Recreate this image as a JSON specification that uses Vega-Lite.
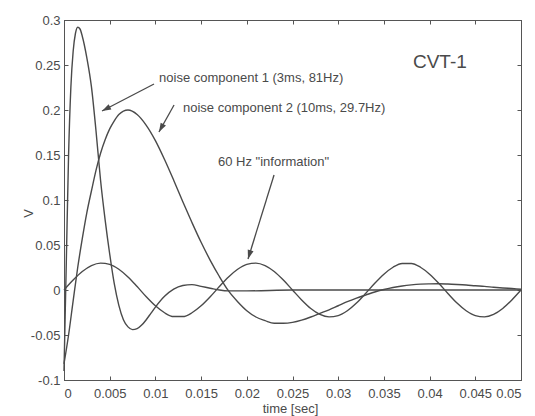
{
  "$schema": "https://vega.github.io/schema/vega-lite/v6.json",
  "width": 457,
  "height": 360,
  "autosize": {"type": "none"},
  "padding": {"left": 64, "top": 20, "right": 14, "bottom": 36},
  "background": "white",
  "config": {
    "view": {"stroke": "#555555", "strokeWidth": 1},
    "font": "Liberation Sans",
    "axis": {
      "grid": false,
      "domainColor": "#555555",
      "tickColor": "#555555",
      "tickSize": -4,
      "labelColor": "#4a4a4a",
      "labelFontSize": 13,
      "labelFont": "Liberation Sans",
      "titleFont": "Liberation Sans",
      "titleFontSize": 13,
      "titleFontWeight": "normal",
      "titleColor": "#4a4a4a"
    }
  },
  "datasets": {
    "curves": [
      {"s": "n1", "t": 0, "v": -0.09},
      {"s": "n1", "t": 0.00025, "v": 0.03},
      {"s": "n1", "t": 0.0005, "v": 0.15},
      {"s": "n1", "t": 0.00075, "v": 0.225},
      {"s": "n1", "t": 0.001, "v": 0.265},
      {"s": "n1", "t": 0.00125, "v": 0.285},
      {"s": "n1", "t": 0.0015, "v": 0.292},
      {"s": "n1", "t": 0.00175, "v": 0.29},
      {"s": "n1", "t": 0.002, "v": 0.282},
      {"s": "n1", "t": 0.0025, "v": 0.258},
      {"s": "n1", "t": 0.003, "v": 0.226},
      {"s": "n1", "t": 0.0035, "v": 0.177},
      {"s": "n1", "t": 0.004, "v": 0.122},
      {"s": "n1", "t": 0.0045, "v": 0.078},
      {"s": "n1", "t": 0.005, "v": 0.04},
      {"s": "n1", "t": 0.0055, "v": 0.007},
      {"s": "n1", "t": 0.006, "v": -0.017},
      {"s": "n1", "t": 0.0065, "v": -0.033},
      {"s": "n1", "t": 0.007, "v": -0.041},
      {"s": "n1", "t": 0.0075, "v": -0.044},
      {"s": "n1", "t": 0.008, "v": -0.043},
      {"s": "n1", "t": 0.0085, "v": -0.039},
      {"s": "n1", "t": 0.009, "v": -0.033},
      {"s": "n1", "t": 0.0095, "v": -0.026},
      {"s": "n1", "t": 0.01, "v": -0.019},
      {"s": "n1", "t": 0.011, "v": -0.007},
      {"s": "n1", "t": 0.012, "v": 0.001},
      {"s": "n1", "t": 0.013, "v": 0.005},
      {"s": "n1", "t": 0.014, "v": 0.006},
      {"s": "n1", "t": 0.015, "v": 0.004},
      {"s": "n1", "t": 0.016, "v": 0.002},
      {"s": "n1", "t": 0.017, "v": 0.0},
      {"s": "n1", "t": 0.018, "v": -0.001},
      {"s": "n1", "t": 0.02, "v": -0.001},
      {"s": "n1", "t": 0.025, "v": 0},
      {"s": "n1", "t": 0.03, "v": 0},
      {"s": "n1", "t": 0.035, "v": 0},
      {"s": "n1", "t": 0.04, "v": 0},
      {"s": "n1", "t": 0.045, "v": 0},
      {"s": "n1", "t": 0.05, "v": 0},
      {"s": "n2", "t": 0, "v": -0.082},
      {"s": "n2", "t": 0.0005, "v": -0.05},
      {"s": "n2", "t": 0.001, "v": -0.012},
      {"s": "n2", "t": 0.0015, "v": 0.025},
      {"s": "n2", "t": 0.002, "v": 0.057},
      {"s": "n2", "t": 0.0025, "v": 0.086},
      {"s": "n2", "t": 0.003, "v": 0.11},
      {"s": "n2", "t": 0.0035, "v": 0.133},
      {"s": "n2", "t": 0.004, "v": 0.152},
      {"s": "n2", "t": 0.0045, "v": 0.167},
      {"s": "n2", "t": 0.005, "v": 0.179},
      {"s": "n2", "t": 0.0055, "v": 0.188},
      {"s": "n2", "t": 0.006, "v": 0.195},
      {"s": "n2", "t": 0.007, "v": 0.2},
      {"s": "n2", "t": 0.008, "v": 0.195},
      {"s": "n2", "t": 0.009, "v": 0.183},
      {"s": "n2", "t": 0.01, "v": 0.166},
      {"s": "n2", "t": 0.011, "v": 0.145},
      {"s": "n2", "t": 0.012, "v": 0.122},
      {"s": "n2", "t": 0.013, "v": 0.098},
      {"s": "n2", "t": 0.014, "v": 0.075},
      {"s": "n2", "t": 0.015, "v": 0.053},
      {"s": "n2", "t": 0.016, "v": 0.033},
      {"s": "n2", "t": 0.017, "v": 0.015},
      {"s": "n2", "t": 0.018, "v": -0.001},
      {"s": "n2", "t": 0.019, "v": -0.013},
      {"s": "n2", "t": 0.02, "v": -0.023},
      {"s": "n2", "t": 0.021, "v": -0.03},
      {"s": "n2", "t": 0.022, "v": -0.034},
      {"s": "n2", "t": 0.023, "v": -0.037},
      {"s": "n2", "t": 0.024, "v": -0.037},
      {"s": "n2", "t": 0.025, "v": -0.036},
      {"s": "n2", "t": 0.026, "v": -0.0335},
      {"s": "n2", "t": 0.027, "v": -0.03},
      {"s": "n2", "t": 0.028, "v": -0.026},
      {"s": "n2", "t": 0.029, "v": -0.022},
      {"s": "n2", "t": 0.03, "v": -0.0175},
      {"s": "n2", "t": 0.031, "v": -0.013},
      {"s": "n2", "t": 0.032, "v": -0.009},
      {"s": "n2", "t": 0.033, "v": -0.0056},
      {"s": "n2", "t": 0.034, "v": -0.0022},
      {"s": "n2", "t": 0.035, "v": 0.0005},
      {"s": "n2", "t": 0.036, "v": 0.0028},
      {"s": "n2", "t": 0.037, "v": 0.0045},
      {"s": "n2", "t": 0.038, "v": 0.0057},
      {"s": "n2", "t": 0.039, "v": 0.0065},
      {"s": "n2", "t": 0.04, "v": 0.0068},
      {"s": "n2", "t": 0.041, "v": 0.0069},
      {"s": "n2", "t": 0.042, "v": 0.0066},
      {"s": "n2", "t": 0.043, "v": 0.0061},
      {"s": "n2", "t": 0.044, "v": 0.0055},
      {"s": "n2", "t": 0.045, "v": 0.0047},
      {"s": "n2", "t": 0.046, "v": 0.004},
      {"s": "n2", "t": 0.047, "v": 0.0031},
      {"s": "n2", "t": 0.048, "v": 0.0023},
      {"s": "n2", "t": 0.049, "v": 0.0016},
      {"s": "n2", "t": 0.05, "v": 0.0009},
      {"s": "i", "t": 0, "v": 0},
      {"s": "i", "t": 0.001, "v": 0.011},
      {"s": "i", "t": 0.002, "v": 0.0205},
      {"s": "i", "t": 0.003, "v": 0.0271},
      {"s": "i", "t": 0.004, "v": 0.0299},
      {"s": "i", "t": 0.005, "v": 0.0285},
      {"s": "i", "t": 0.006, "v": 0.0231},
      {"s": "i", "t": 0.007, "v": 0.0145},
      {"s": "i", "t": 0.008, "v": 0.0038},
      {"s": "i", "t": 0.009, "v": -0.0075},
      {"s": "i", "t": 0.01, "v": -0.0176},
      {"s": "i", "t": 0.011, "v": -0.0253},
      {"s": "i", "t": 0.012, "v": -0.0295},
      {"s": "i", "t": 0.013, "v": -0.0295},
      {"s": "i", "t": 0.014, "v": -0.0253},
      {"s": "i", "t": 0.015, "v": -0.0176},
      {"s": "i", "t": 0.016, "v": -0.0075},
      {"s": "i", "t": 0.017, "v": 0.0038},
      {"s": "i", "t": 0.018, "v": 0.0145},
      {"s": "i", "t": 0.019, "v": 0.0231},
      {"s": "i", "t": 0.02, "v": 0.0285},
      {"s": "i", "t": 0.021, "v": 0.0299},
      {"s": "i", "t": 0.022, "v": 0.0271},
      {"s": "i", "t": 0.023, "v": 0.0205},
      {"s": "i", "t": 0.024, "v": 0.011},
      {"s": "i", "t": 0.025, "v": 0},
      {"s": "i", "t": 0.026, "v": -0.011},
      {"s": "i", "t": 0.027, "v": -0.0205},
      {"s": "i", "t": 0.028, "v": -0.0271},
      {"s": "i", "t": 0.029, "v": -0.0299},
      {"s": "i", "t": 0.03, "v": -0.0285},
      {"s": "i", "t": 0.031, "v": -0.0231},
      {"s": "i", "t": 0.032, "v": -0.0145},
      {"s": "i", "t": 0.033, "v": -0.0038},
      {"s": "i", "t": 0.034, "v": 0.0075},
      {"s": "i", "t": 0.035, "v": 0.0176},
      {"s": "i", "t": 0.036, "v": 0.0253},
      {"s": "i", "t": 0.037, "v": 0.0295},
      {"s": "i", "t": 0.038, "v": 0.0295},
      {"s": "i", "t": 0.039, "v": 0.0253},
      {"s": "i", "t": 0.04, "v": 0.0176},
      {"s": "i", "t": 0.041, "v": 0.0075},
      {"s": "i", "t": 0.042, "v": -0.0038},
      {"s": "i", "t": 0.043, "v": -0.0145},
      {"s": "i", "t": 0.044, "v": -0.0231},
      {"s": "i", "t": 0.045, "v": -0.0285},
      {"s": "i", "t": 0.046, "v": -0.0299},
      {"s": "i", "t": 0.047, "v": -0.0271},
      {"s": "i", "t": 0.048, "v": -0.0205},
      {"s": "i", "t": 0.049, "v": -0.011},
      {"s": "i", "t": 0.05, "v": 0}
    ],
    "labels": [
      {"id": "n1", "t": 0.0104, "v": 0.2356, "text": "noise component 1 (3ms, 81Hz)"},
      {"id": "n2", "t": 0.01302, "v": 0.2022, "text": "noise component 2 (10ms, 29.7Hz)"},
      {"id": "i", "t": 0.01685, "v": 0.1422, "text": "60 Hz \"information\""},
      {"id": "cvt", "t": 0.03818, "v": 0.2533, "text": "CVT-1"}
    ],
    "arrows": [
      {"id": "a1", "t": 0.00985, "v": 0.2289, "t2": 0.00416, "v2": 0.1989},
      {"id": "a2", "t": 0.01204, "v": 0.2056, "t2": 0.01039, "v2": 0.1756},
      {"id": "a3", "t": 0.02298, "v": 0.1278, "t2": 0.02013, "v2": 0.0344}
    ]
  },
  "layer": [
    {
      "data": {"name": "curves"},
      "mark": {"type": "line", "interpolate": "monotone", "color": "#4a4a4a", "strokeWidth": 1.4},
      "encoding": {
        "x": {
          "field": "t", "type": "quantitative",
          "scale": {"domain": [0, 0.05], "nice": false, "zero": false},
          "axis": {
            "orient": "bottom",
            "values": [0, 0.005, 0.01, 0.015, 0.02, 0.025, 0.03, 0.035, 0.04, 0.045, 0.05],
            "labelExpr": "'' + datum.value",
            "labelPadding": 11,
            "title": "time [sec]",
            "titleX": 226,
            "titleY": 28,
            "titleBaseline": "middle"
          }
        },
        "y": {
          "field": "v", "type": "quantitative",
          "scale": {"domain": [-0.1, 0.3], "nice": false, "zero": false},
          "axis": {
            "orient": "left",
            "values": [-0.1, -0.05, 0, 0.05, 0.1, 0.15, 0.2, 0.25, 0.3],
            "labelExpr": "'' + datum.value",
            "labelPadding": 8,
            "title": "V",
            "titleAngle": -90,
            "titleX": -36,
            "titleY": 193,
            "titleBaseline": "middle"
          }
        },
        "detail": {"field": "s"}
      }
    },
    {
      "data": {"name": "labels"},
      "transform": [{"filter": "datum.id != 'cvt'"}],
      "mark": {"type": "text", "align": "left", "baseline": "middle", "fontSize": 13, "color": "#4a4a4a", "font": "Liberation Sans"},
      "encoding": {
        "x": {
          "field": "t", "type": "quantitative",
          "axis": {
            "orient": "top",
            "values": [0, 0.005, 0.01, 0.015, 0.02, 0.025, 0.03, 0.035, 0.04, 0.045, 0.05],
            "labels": false,
            "title": null
          }
        },
        "y": {
          "field": "v", "type": "quantitative",
          "axis": {
            "orient": "right",
            "values": [-0.1, -0.05, 0, 0.05, 0.1, 0.15, 0.2, 0.25, 0.3],
            "labels": false,
            "title": null
          }
        },
        "text": {"field": "text"}
      }
    },
    {
      "data": {"name": "labels"},
      "transform": [{"filter": "datum.id == 'cvt'"}],
      "mark": {"type": "text", "align": "left", "baseline": "middle", "fontSize": 19, "color": "#4a4a4a", "font": "Liberation Sans"},
      "encoding": {
        "x": {"field": "t", "type": "quantitative", "axis": null},
        "y": {"field": "v", "type": "quantitative", "axis": null},
        "text": {"field": "text"}
      }
    },
    {
      "data": {"name": "arrows"},
      "mark": {"type": "rule", "color": "#4a4a4a", "strokeWidth": 1.3},
      "encoding": {
        "x": {"field": "t", "type": "quantitative", "axis": null},
        "y": {"field": "v", "type": "quantitative", "axis": null},
        "x2": {"field": "t2"},
        "y2": {"field": "v2"}
      }
    },
    {
      "data": {"name": "arrows"},
      "transform": [{"filter": "datum.id == 'a1'"}],
      "mark": {"type": "point", "shape": "M0,0L-0.67,2L0.67,2Z", "filled": true, "color": "#4a4a4a", "size": 81, "angle": 242.5, "opacity": 1},
      "encoding": {
        "x": {"field": "t2", "type": "quantitative", "axis": null},
        "y": {"field": "v2", "type": "quantitative", "axis": null}
      }
    },
    {
      "data": {"name": "arrows"},
      "transform": [{"filter": "datum.id == 'a2'"}],
      "mark": {"type": "point", "shape": "M0,0L-0.67,2L0.67,2Z", "filled": true, "color": "#4a4a4a", "size": 81, "angle": 209, "opacity": 1},
      "encoding": {
        "x": {"field": "t2", "type": "quantitative", "axis": null},
        "y": {"field": "v2", "type": "quantitative", "axis": null}
      }
    },
    {
      "data": {"name": "arrows"},
      "transform": [{"filter": "datum.id == 'a3'"}],
      "mark": {"type": "point", "shape": "M0,0L-0.67,2L0.67,2Z", "filled": true, "color": "#4a4a4a", "size": 81, "angle": 197.2, "opacity": 1},
      "encoding": {
        "x": {"field": "t2", "type": "quantitative", "axis": null},
        "y": {"field": "v2", "type": "quantitative", "axis": null}
      }
    }
  ],
  "resolve": {"axis": {"x": "independent", "y": "independent"}}
}
